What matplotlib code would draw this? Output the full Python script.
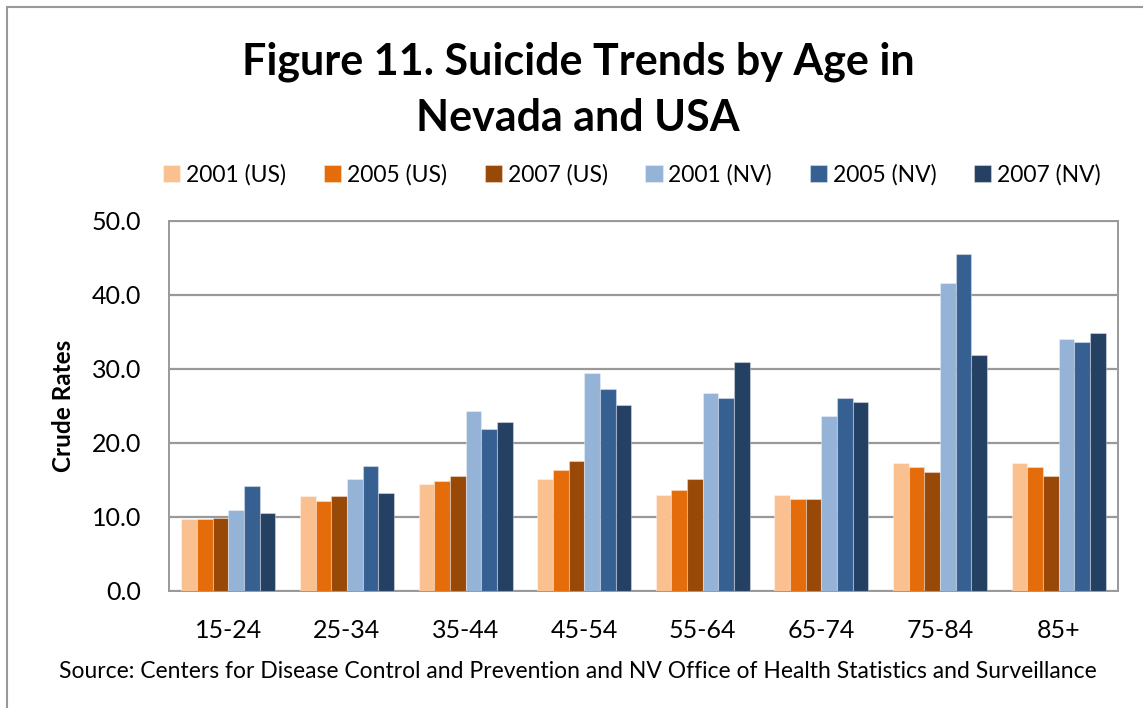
import matplotlib
matplotlib.use("Agg")
import matplotlib.pyplot as plt
import numpy as np
from matplotlib.patches import Rectangle

plt.rcParams['font.family'] = ['Lato', 'DejaVu Sans']

age_groups = ["15-24", "25-34", "35-44", "45-54", "55-64", "65-74", "75-84", "85+"]
series_names = ["2001 (US)", "2005 (US)", "2007 (US)", "2001 (NV)", "2005 (NV)", "2007 (NV)"]
us_2001 = [9.7, 12.8, 14.5, 15.2, 13.0, 13.0, 17.3, 17.3]
us_2005 = [9.7, 12.1, 14.8, 16.4, 13.7, 12.4, 16.7, 16.7]
us_2007 = [9.8, 12.8, 15.5, 17.6, 15.2, 12.4, 16.1, 15.5]
nv_2001 = [10.9, 15.2, 24.3, 29.4, 26.7, 23.7, 41.6, 34.0]
nv_2005 = [14.2, 16.9, 21.9, 27.3, 26.1, 26.1, 45.6, 33.7]
nv_2007 = [10.6, 13.3, 22.8, 25.2, 31.0, 25.5, 31.9, 34.9]
colors = ["#FAC090", "#E46C0A", "#984807", "#95B3D7", "#366092", "#244062"]
yticks = [0, 10, 20, 30, 40, 50]

series = [us_2001, us_2005, us_2007, nv_2001, nv_2005, nv_2007]

fig = plt.figure(figsize=(11.43, 7.08), dpi=100)
ax = fig.add_axes([169/1143, 1-591/708, (1118-169)/1143, (591-221)/708])

x = np.arange(len(age_groups))
bw = 0.132
for i, (vals, c, name) in enumerate(zip(series, colors, series_names)):
    offs = (i - 2.5) * bw
    ax.bar(x + offs, vals, width=bw, color=c, label=name, zorder=3,
           edgecolor=(1, 1, 1, 0.35), linewidth=0.8)

ax.set_xlim(-0.5, len(age_groups) - 0.5)
ax.set_ylim(0, 50)
ax.set_yticks(yticks)
ax.set_yticklabels([f"{v:.1f}" for v in yticks], fontsize=18)
ax.set_xticks(x)
ax.set_xticklabels(age_groups, fontsize=18)
ax.tick_params(axis='both', length=0)
ax.tick_params(axis='y', pad=20)
ax.tick_params(axis='x', pad=20)
ax.grid(axis='y', color='#999999', linewidth=1.6, zorder=0)
for s in ax.spines.values():
    s.set_color('#999999')
    s.set_linewidth(1.4)
ax.set_ylabel("Crude Rates", fontsize=17.5, fontweight='bold', labelpad=12)

fig.text(578/1143, 1-62/708, "Figure 11. Suicide Trends by Age in", ha='center', va='center',
         fontsize=31, fontweight='bold')
fig.text(578/1143, 1-118/708, "Nevada and USA", ha='center', va='center',
         fontsize=31, fontweight='bold')

fig.legend(loc='center', bbox_to_anchor=(632/1143, 1-175/708), ncol=6, frameon=False,
           fontsize=16.5, handlelength=0.75, handleheight=0.75, handletextpad=0.25,
           columnspacing=1.65)

fig.text(578/1143, 1-671/708,
         "Source: Centers for Disease Control and Prevention and NV Office of Health Statistics and Surveillance",
         ha='center', va='center', fontsize=16.5)

fig.patches.append(Rectangle((7/1143, -0.1), 1.2, 1 - 7/708 + 0.1, transform=fig.transFigure,
                             fill=False, edgecolor='#999999', linewidth=1.5))

fig.savefig("out.png", dpi=100)
